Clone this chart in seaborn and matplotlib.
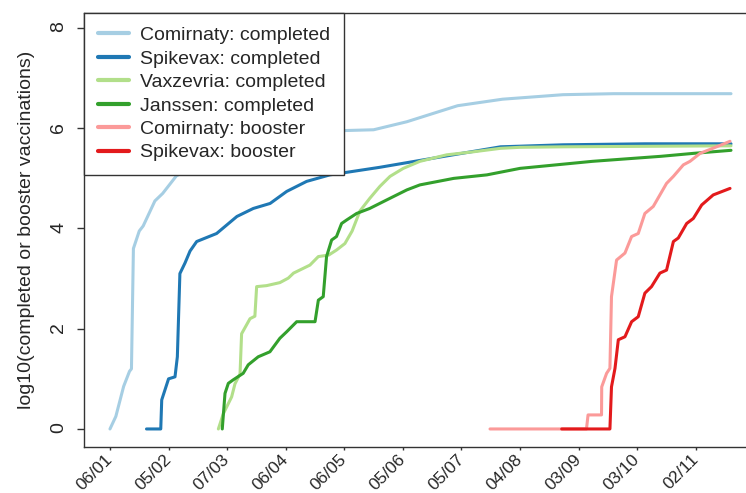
import matplotlib
matplotlib.use("Agg")
import matplotlib.pyplot as plt
import matplotlib.dates as mdates
import numpy as np
import pandas as pd
import seaborn as sns

# day offsets are counted from 2021-01-06
start = pd.Timestamp("2021-01-06")

series_names = [
    "Comirnaty: completed",
    "Spikevax: completed",
    "Vaxzevria: completed",
    "Janssen: completed",
    "Comirnaty: booster",
    "Spikevax: booster",
]

comirnaty_days = [0, 3, 7, 10, 11, 12, 15, 17, 23, 27, 34, 46, 67, 92, 116, 135,
                  152, 178, 201, 232, 258, 318]
comirnaty_vals = [0, 0.25, 0.85, 1.15, 1.2, 3.6, 3.95, 4.05, 4.55, 4.7, 5.05, 5.3,
                  5.6, 5.85, 5.95, 5.97, 6.13, 6.45, 6.58, 6.67, 6.69, 6.69]

spikevax_days = [18.7, 26, 26.5, 30, 33.3, 34.5, 35.8, 38.4, 41, 44.4, 54.6, 65,
                 73.4, 82, 90.5, 100.7, 112.6, 138, 159, 200, 232, 274, 318]
spikevax_vals = [0, 0, 0.58, 1.0, 1.04, 1.44, 3.1, 3.31, 3.55, 3.74, 3.9, 4.24,
                 4.4, 4.5, 4.74, 4.94, 5.07, 5.22, 5.36, 5.63, 5.67, 5.69, 5.69]

vaxzevria_days = [55.5, 58, 62.3, 64, 66.6, 67.4, 71.7, 74.2, 75.1, 80.2, 87, 91.3,
                  94, 102.4, 106.7, 112, 116, 120.3, 124, 128, 133, 138.2, 143.4,
                  150.2, 158.7, 172.4, 186, 200, 210, 232, 318]
vaxzevria_vals = [0, 0.3, 0.64, 0.9, 1.1, 1.9, 2.2, 2.25, 2.84, 2.86, 2.92, 3.01,
                  3.11, 3.27, 3.44, 3.47, 3.57, 3.7, 3.95, 4.35, 4.6, 4.84, 5.04,
                  5.2, 5.34, 5.47, 5.53, 5.6, 5.62, 5.63, 5.65]

janssen_days = [57.5, 58.9, 60.6, 63.1, 68.2, 70.8, 75.9, 81.9, 87, 90.5, 95.6, 105,
                106.7, 109.2, 110.9, 113.5, 116, 118.6, 121.2, 126.3, 133, 141.7,
                152, 158.7, 176, 193, 210, 247, 282, 299, 318]
janssen_vals = [0, 0.71, 0.91, 0.98, 1.11, 1.28, 1.44, 1.54, 1.81, 1.94, 2.14, 2.14,
                2.57, 2.64, 3.44, 3.77, 3.84, 4.1, 4.17, 4.3, 4.4, 4.57, 4.77, 4.87,
                5.0, 5.07, 5.2, 5.34, 5.44, 5.5, 5.56]

comirnaty_boost_days = [194.6, 244, 244.8, 251.7, 251.8, 254.3, 256, 256.8, 259.4,
                        263.7, 267.1, 270.5, 273.9, 278.2, 285, 288.5, 293.6, 297,
                        302.2, 310.6, 317.5]
comirnaty_boost_vals = [0, 0, 0.28, 0.28, 0.84, 1.11, 1.21, 2.64, 3.37, 3.51, 3.84,
                        3.9, 4.3, 4.44, 4.9, 5.04, 5.27, 5.34, 5.5, 5.63, 5.74]

spikevax_boost_days = [231.3, 256, 256.8, 258.6, 260.3, 263.7, 267.1, 270.5, 273.9,
                       277.3, 281.6, 285, 288.5, 291, 295.3, 298.7, 303, 308.9, 317.5]
spikevax_boost_vals = [0, 0, 0.84, 1.21, 1.78, 1.84, 2.14, 2.24, 2.71, 2.84, 3.11,
                       3.17, 3.74, 3.81, 4.1, 4.2, 4.47, 4.67, 4.8]

tick_days = [0, 30, 60, 90, 120, 150, 180, 210, 240, 270, 300]

all_days = [comirnaty_days, spikevax_days, vaxzevria_days, janssen_days,
            comirnaty_boost_days, spikevax_boost_days]
all_vals = [comirnaty_vals, spikevax_vals, vaxzevria_vals, janssen_vals,
            comirnaty_boost_vals, spikevax_boost_vals]

frames = []
for name, d, v in zip(series_names, all_days, all_vals):
    frames.append(pd.DataFrame({
        "date": start + pd.to_timedelta(np.array(d), unit="D"),
        "value": v,
        "series": name,
    }))
df = pd.concat(frames, ignore_index=True)

sns.set_style("ticks")
plt.rcParams["font.family"] = ["Liberation Sans", "DejaVu Sans"]

fig = plt.figure(figsize=(7.46, 4.93), dpi=100)
ax = fig.add_axes([84 / 746, 46 / 493, 672 / 746, 434 / 493])

palette = sns.color_palette("Paired", 6)
sns.lineplot(data=df, x="date", y="value", hue="series", hue_order=series_names,
             palette=palette, estimator=None, sort=False, linewidth=2.2, ax=ax)

ax.set_xlim(start + pd.Timedelta(days=-13.3), start + pd.Timedelta(days=330.8))
ax.set_ylim(-0.36, 8.30)
ax.set_yticks([0, 2, 4, 6, 8])
ax.set_xticks([start + pd.Timedelta(days=t) for t in tick_days])
ax.xaxis.set_major_formatter(mdates.DateFormatter("%d/%m"))

ax.set_xlabel("")
ax.set_ylabel("log10(completed or booster vaccinations)", fontsize=14, labelpad=11)
ax.tick_params(axis="both", width=1, color="#333333")
ax.tick_params(axis="y", labelsize=14, length=5, labelrotation=90, pad=7)
ax.tick_params(axis="x", labelsize=12.5, length=2.5, pad=4.5)
for lab in ax.get_xticklabels():
    lab.set_rotation(45)
    lab.set_ha("right")
    lab.set_va("center")
    lab.set_rotation_mode("anchor")

for side in ["left", "bottom", "top", "right"]:
    ax.spines[side].set_visible(True)
    ax.spines[side].set_color("#333333")
    ax.spines[side].set_linewidth(1)

leg = ax.legend(loc="upper left", fontsize=14, frameon=True, fancybox=False,
                framealpha=1, edgecolor="#333333", borderaxespad=0,
                borderpad=0.7, labelspacing=0.3, handlelength=1.6,
                handletextpad=0.6)
leg.get_frame().set_linewidth(1)
for line in leg.get_lines():
    line.set_linewidth(3)

fig.savefig("out.png", dpi=100)
